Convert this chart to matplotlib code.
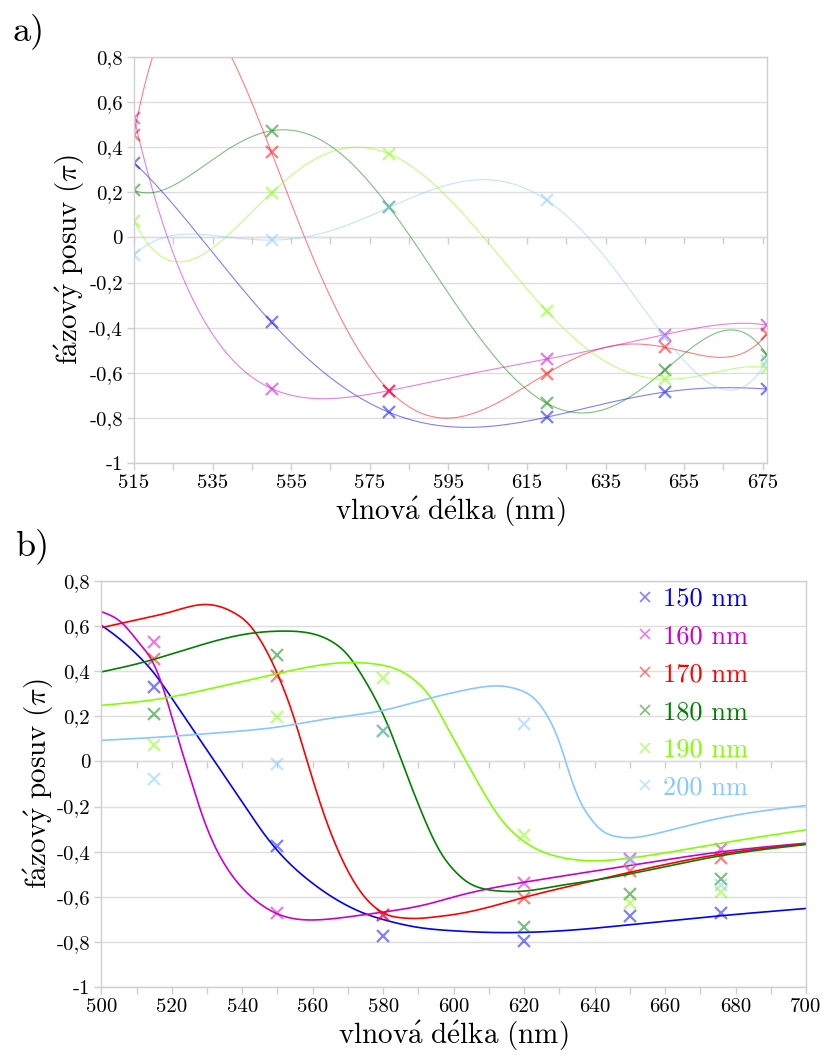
import numpy as np
import matplotlib
matplotlib.use("Agg")
import matplotlib.pyplot as plt
from matplotlib.lines import Line2D
from matplotlib.ticker import MultipleLocator, FuncFormatter

# Computer Modern look (cmr10 ships with matplotlib)
plt.rcParams['font.family'] = ['cmr10', 'DejaVu Serif']
plt.rcParams['mathtext.fontset'] = 'cm'
plt.rcParams['axes.unicode_minus'] = False

# Measured wavelengths (nm)
wavelengths = [515, 550, 580, 620, 650, 676]

# Measured phase shift (units of pi) for each layer thickness
phase_150 = [0.330, -0.376, -0.775, -0.796, -0.685, -0.671]
phase_160 = [0.530, -0.669, -0.678, -0.539, -0.430, -0.388]
phase_170 = [0.454, 0.376, -0.679, -0.603, -0.486, -0.429]
phase_180 = [0.209, 0.472, 0.133, -0.734, -0.588, -0.519]
phase_190 = [0.074, 0.198, 0.369, -0.326, -0.628, -0.578]
phase_200 = [-0.078, -0.012, 0.133, 0.165, -0.440, -0.548]

labels = ['150 nm', '160 nm', '170 nm', '180 nm', '190 nm', '200 nm']
colors = ['#0000ff', '#cc00cc', '#ff0000', '#008000', '#80ff00', '#86c8ff']

# Simulated phase curves for panel b
model_150_x = [500, 505, 510, 515, 520, 525, 530, 535, 540, 545, 550, 555, 560, 565, 570, 575, 580, 590, 600, 610, 620, 635, 650, 676, 700]
model_150_y = [0.603, 0.545, 0.475, 0.390, 0.280, 0.165, 0.050, -0.065, -0.180, -0.295, -0.395, -0.475, -0.540, -0.595, -0.640, -0.675, -0.700, -0.735, -0.750, -0.757, -0.757, -0.745, -0.723, -0.683, -0.651]

model_160_x = [500, 506, 510.5, 514.3, 517.1, 520, 522.8, 525, 527.5, 530, 533, 536, 540, 545, 550, 555, 560, 569.2, 579.6, 592.8, 600, 620, 650, 676, 700]
model_160_y = [0.663, 0.611, 0.529, 0.448, 0.345, 0.197, 0.049, -0.060, -0.185, -0.295, -0.400, -0.480, -0.560, -0.630, -0.675, -0.697, -0.702, -0.690, -0.668, -0.631, -0.600, -0.535, -0.461, -0.400, -0.362]

model_170_x = [500, 510, 520, 528.5, 533, 538, 542, 545, 548, 551, 554, 557, 560, 563, 566, 569, 572, 575, 578, 581, 585, 590, 595, 600, 610, 620, 635, 650, 676, 700]
model_170_y = [0.592, 0.626, 0.663, 0.694, 0.688, 0.655, 0.605, 0.540, 0.455, 0.350, 0.225, 0.075, -0.080, -0.225, -0.350, -0.455, -0.540, -0.605, -0.650, -0.678, -0.692, -0.695, -0.688, -0.678, -0.645, -0.602, -0.545, -0.491, -0.410, -0.365]

model_180_x = [500, 512.4, 521.9, 531.3, 540.8, 552, 559.7, 566, 570, 574, 578, 582, 586, 590, 594, 597, 600, 604, 608, 613, 620, 630, 640, 650, 676, 700]
model_180_y = [0.396, 0.441, 0.485, 0.529, 0.563, 0.577, 0.566, 0.525, 0.470, 0.380, 0.270, 0.135, -0.030, -0.190, -0.335, -0.420, -0.480, -0.535, -0.562, -0.574, -0.574, -0.550, -0.526, -0.498, -0.417, -0.368]

model_190_x = [500, 517, 531, 550, 560, 571, 578.6, 585, 590, 594, 597, 600, 603, 606, 609, 612, 615, 618, 622, 627, 633, 640, 650, 676, 700]
model_190_y = [0.248, 0.278, 0.322, 0.389, 0.421, 0.438, 0.429, 0.400, 0.345, 0.270, 0.185, 0.100, 0.015, -0.070, -0.150, -0.225, -0.285, -0.330, -0.375, -0.410, -0.432, -0.440, -0.428, -0.362, -0.303]

model_200_x = [500, 517, 536, 550, 564.4, 580, 592.8, 600, 608.5, 613, 618, 621, 624, 627, 630, 633, 636, 639, 642, 646, 650, 656, 665, 676, 700]
model_200_y = [0.093, 0.108, 0.130, 0.152, 0.189, 0.226, 0.278, 0.305, 0.330, 0.334, 0.320, 0.300, 0.260, 0.190, 0.085, -0.060, -0.180, -0.255, -0.305, -0.332, -0.338, -0.325, -0.290, -0.250, -0.195]


def natural_spline(x, y, xs):
    # natural cubic spline, only used to draw the read-off curves smoothly
    x = np.asarray(x, float)
    y = np.asarray(y, float)
    n = len(x)
    h = np.diff(x)
    A = np.zeros((n, n))
    r = np.zeros(n)
    A[0, 0] = A[-1, -1] = 1
    for i in range(1, n - 1):
        A[i, i - 1] = h[i - 1]
        A[i, i] = 2 * (h[i - 1] + h[i])
        A[i, i + 1] = h[i]
        r[i] = 3 * ((y[i + 1] - y[i]) / h[i] - (y[i] - y[i - 1]) / h[i - 1])
    c = np.linalg.solve(A, r)
    b = (y[1:] - y[:-1]) / h - h * (2 * c[:-1] + c[1:]) / 3
    d = (c[1:] - c[:-1]) / (3 * h)
    idx = np.clip(np.searchsorted(x, xs) - 1, 0, n - 2)
    dx = xs - x[idx]
    return y[idx] + b[idx] * dx + c[idx] * dx ** 2 + d[idx] * dx ** 3


def comma_fmt(v, pos):
    s = f"{v:.1f}".replace('.', ',')
    if s.endswith(',0'):
        s = s[:-2]
    if s == '-0':
        s = '0'
    return s


def style_axes(ax, xmin, xmax, major, minor_start):
    grey = '#cfcfcf'
    ax.set_xlim(xmin, xmax)
    ax.set_ylim(-1, 0.8)
    ax.yaxis.set_major_locator(MultipleLocator(0.2))
    ax.yaxis.set_major_formatter(FuncFormatter(comma_fmt))
    ax.set_xticks(np.arange(xmin, xmax + 0.1, major))
    ax.set_xticks(np.arange(minor_start, xmax, major), minor=True)
    ax.grid(axis='y', color='#dedede', linewidth=1.0)
    ax.set_axisbelow(True)
    for sp in ax.spines.values():
        sp.set_color(grey)
        sp.set_linewidth(1.0)
    ax.tick_params(axis='both', which='both', color=grey, length=5, width=1.0,
                   labelsize=15, pad=3)
    # second x axis line at zero with its own ticks
    sec = ax.secondary_xaxis(1 / 1.8)
    sec.set_alignment('bottom')
    sec.set_xticks(np.arange(xmin, xmax + 0.1, major / 2))
    sec.tick_params(color=grey, length=5, width=1.0, labelbottom=False, labeltop=False)
    sec.spines['bottom'].set_color(grey)
    sec.spines['bottom'].set_linewidth(1.0)
    ax.set_xlabel(r'$\mathrm{vlnov\acute{a}\ d\acute{e}lka\ (nm)}$', fontsize=21, labelpad=2)
    ax.set_ylabel(r'$\mathrm{f\acute{a}zov\acute{y}\ posuv\ (\pi)}$', fontsize=21)


def main():
    fig = plt.figure(figsize=(8.23, 10.56), dpi=100)
    W, H = 823.0, 1056.0

    measured = [phase_150, phase_160, phase_170, phase_180, phase_190, phase_200]
    models = [(model_150_x, model_150_y), (model_160_x, model_160_y),
              (model_170_x, model_170_y), (model_180_x, model_180_y),
              (model_190_x, model_190_y), (model_200_x, model_200_y)]

    # Panel a: measured points with 5th order polynomial trend lines
    ax_a = fig.add_axes([134 / W, 1 - 463.3 / H, 632.7 / W, 406.6 / H])
    xs = np.linspace(wavelengths[0], wavelengths[-1], 600)
    for vals, col in zip(measured, colors):
        trend = np.polynomial.Polynomial.fit(wavelengths, vals, 5)
        ax_a.plot(xs, trend(xs), color=col, lw=0.8, alpha=0.5)
        ax_a.plot(wavelengths, vals, 'x', color=col, ms=9, mew=1.6, alpha=0.5)
    style_axes(ax_a, 515, 676, 20, 525)
    ax_a.set_xticks(np.arange(515, 676, 20))
    ax_a.yaxis.set_label_coords(-0.074, 0.5)

    # Panel b: measured points with simulated curves
    ax_b = fig.add_axes([101.3 / W, 1 - 987.3 / H, 704.7 / W, 406.6 / H])
    handles = []
    for vals, (mx, my), col in zip(measured, models, colors):
        xm = np.linspace(mx[0], mx[-1], 800)
        ax_b.plot(xm, natural_spline(mx, my, xm), color=col, lw=1.2)
        ax_b.plot(wavelengths, vals, 'x', color=col, ms=9, mew=1.6, alpha=0.5)
        handles.append(Line2D([], [], ls='none', marker='x', color=col, ms=7, mew=1.2, alpha=0.5))
    style_axes(ax_b, 500, 700, 20, 510)
    ax_b.yaxis.set_label_coords(-0.064, 0.5)
    ax_b.legend(handles, labels, loc='upper left', bbox_to_anchor=(0.749, 0.997),
                frameon=False, fontsize=19, labelcolor=colors, handlelength=0.8,
                handletextpad=0.3, labelspacing=0.53, borderaxespad=0, borderpad=0.2)

    fig.text(13 / W, 1 - 40 / H, 'a)', fontsize=26, va='baseline')
    fig.text(15 / W, 1 - 555 / H, 'b)', fontsize=26, va='baseline')

    fig.savefig('out.png', dpi=100)


if __name__ == "__main__":
    main()
